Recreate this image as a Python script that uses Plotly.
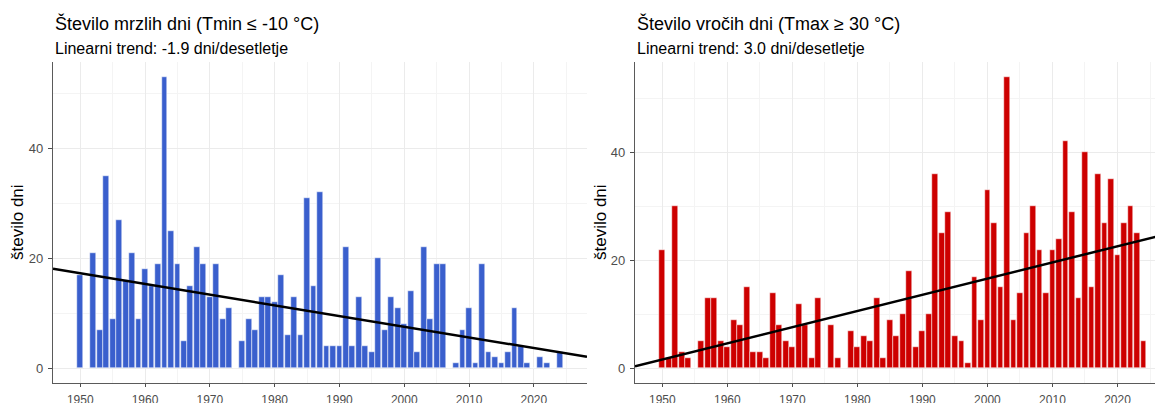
import plotly.graph_objects as go

years = list(range(1950, 2025))

cold_days = [17, 0, 21, 7, 35, 9, 27, 16, 21, 9,
             18, 15, 19, 53, 25, 19, 5, 15, 22, 19,
             13, 19, 9, 11, 0, 5, 9, 7, 13, 13,
             12, 17, 6, 13, 6, 31, 15, 32, 4, 4,
             4, 22, 4, 13, 4, 3, 20, 7, 13, 11,
             8, 14, 3, 22, 9, 19, 19, 0, 1, 7,
             11, 1, 19, 3, 2, 1, 3, 11, 4, 1,
             0, 2, 1, 0, 3]

hot_days = [22, 2, 30, 3, 2, 0, 5, 13, 13, 5,
            4, 9, 8, 15, 3, 3, 2, 14, 8, 5,
            4, 12, 8, 2, 13, 0, 8, 2, 0, 7,
            4, 6, 5, 13, 2, 9, 6, 10, 18, 4,
            7, 10, 36, 25, 29, 6, 5, 1, 17, 9,
            33, 27, 15, 54, 9, 14, 25, 30, 22, 14,
            22, 24, 42, 29, 13, 40, 15, 36, 27, 35,
            21, 27, 30, 25, 5]

# trend lines at the two ends of each panel
trend_years_cold = [1945.8, 2028.2]
trend_cold = [18.1, 2.1]
trend_years_hot = [1945.8, 2027.0]
trend_hot = [0.4, 24.7]

x_ticks = [1950, 1960, 1970, 1980, 1990, 2000, 2010, 2020]
y_ticks = [0, 20, 40]

title_cold = "Število mrzlih dni (Tmin ≤ -10 °C)"
title_hot = "Število vročih dni (Tmax ≥ 30 °C)"
subtitle_cold = "Linearni trend: -1.9 dni/desetletje"
subtitle_hot = "Linearni trend: 3.0 dni/desetletje"
y_title = "število dni"

BLUE = "#3A5FCD"
RED = "#CD0000"
FONT = "Liberation Sans, Arial, sans-serif"

x_left_range = [1945.8, 2028.2]
x_right_range = [1945.8, 2027.0]

fig = go.Figure()

fig.add_trace(go.Bar(x=years, y=cold_days, width=0.9,
                     marker=dict(color=BLUE, line=dict(color="white", width=0.5)),
                     xaxis="x", yaxis="y", showlegend=False))
fig.add_trace(go.Scatter(x=trend_years_cold, y=trend_cold, mode="lines",
                         line=dict(color="black", width=2.5),
                         xaxis="x", yaxis="y", showlegend=False))
fig.add_trace(go.Bar(x=years, y=hot_days, width=0.9,
                     marker=dict(color=RED, line=dict(color="white", width=0.5)),
                     xaxis="x2", yaxis="y2", showlegend=False))
fig.add_trace(go.Scatter(x=trend_years_hot, y=trend_hot, mode="lines",
                         line=dict(color="black", width=2.5),
                         xaxis="x2", yaxis="y2", showlegend=False))

# the page body has an 8px margin, so the figure is drawn 8px right/down
OFF = 8
W, H = 1163 - OFF, 403 - OFF
ml = 53 - OFF
mt = 62 - OFF
mb = H - (383 - OFF)
mr = 0
pw = W - ml - mr
ph = H - mt - mb
d_left = [0, (587 - OFF - ml) / pw]
d_right = [(635 - OFF - ml) / pw, 1]

common_x = dict(tickvals=x_ticks, ticks="outside", ticklen=3, tickcolor="#4D4D4D",
                showline=True, linecolor="#5A5A5A", linewidth=1.2, automargin=False,
                showgrid=True, gridcolor="#EBEBEB", gridwidth=1, zeroline=False,
                ticklabelstandoff=2,
                tickfont=dict(size=12, color="#4D4D4D", family=FONT),
                minor=dict(dtick=5, tick0=1945, showgrid=True, gridcolor="#F4F4F4",
                           gridwidth=0.6, ticks=""))
common_y = dict(tickvals=y_ticks, ticks="outside", ticklen=4, tickcolor="#4D4D4D",
                showline=True, linecolor="#5A5A5A", linewidth=1.2, automargin=False,
                showgrid=True, gridcolor="#EBEBEB", gridwidth=1, zeroline=False,
                ticklabelstandoff=2,
                tickfont=dict(size=13, color="#4D4D4D", family=FONT),
                minor=dict(dtick=10, tick0=0, showgrid=True, gridcolor="#F4F4F4",
                           gridwidth=0.6, ticks=""))

fig.update_layout(
    width=W, height=H,
    margin=dict(l=ml, r=mr, t=mt, b=mb, autoexpand=False),
    paper_bgcolor="white", plot_bgcolor="white",
    bargap=0,
    font=dict(family=FONT),
    xaxis=dict(domain=d_left, range=x_left_range, anchor="y", **common_x),
    yaxis=dict(domain=[0, 1], range=[-2.65, 55.65], anchor="x", **common_y),
    xaxis2=dict(domain=d_right, range=x_right_range, anchor="y2", **common_x),
    yaxis2=dict(domain=[0, 1], range=[-2.7, 56.7], anchor="x2", **common_y),
)


def px_to_paper_x(px):
    return (px - OFF - ml) / pw


def px_to_paper_y(py):
    return (H - mb - (py - OFF)) / ph


for xp, title, sub, yt_x in [
    (53, title_cold, subtitle_cold, 17),
    (635, title_hot, subtitle_hot, 600),
]:
    fig.add_annotation(x=px_to_paper_x(xp), y=px_to_paper_y(23), xref="paper", yref="paper",
                       text=title, showarrow=False, xanchor="left", yanchor="middle",
                       font=dict(size=18, color="black", family=FONT))
    fig.add_annotation(x=px_to_paper_x(xp), y=px_to_paper_y(48), xref="paper", yref="paper",
                       text=sub, showarrow=False, xanchor="left", yanchor="middle",
                       font=dict(size=16, color="black", family=FONT))
    fig.add_annotation(x=px_to_paper_x(yt_x), y=px_to_paper_y(222), xref="paper", yref="paper",
                       text=y_title, showarrow=False, xanchor="center", yanchor="middle",
                       textangle=-90, font=dict(size=17, color="black", family=FONT))

fig.write_html("out.html")
